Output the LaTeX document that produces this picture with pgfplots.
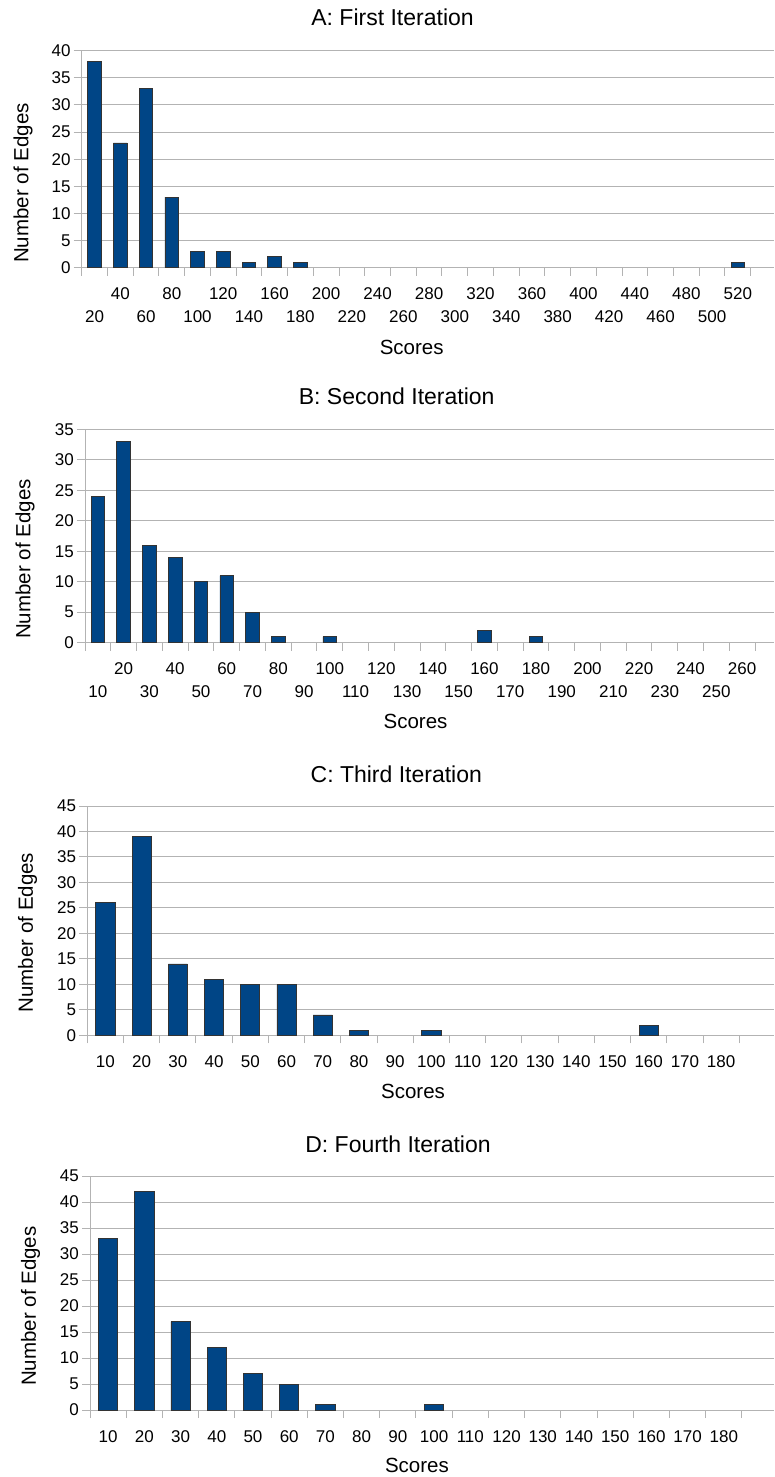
\documentclass[border=0pt]{standalone}
\usepackage{fontspec}
\setmainfont{Liberation Sans}
\usepackage{pgfplots}
\pgfplotsset{compat=1.18}
\definecolor{gridgray}{HTML}{B3B3B3}
\definecolor{barblue}{HTML}{004586}
\newcommand\ticksize{\fontsize{17}{19}\selectfont}
\newcommand\labelsize{\fontsize{20.5}{23}\selectfont}
\newcommand\titlesize{\fontsize{23}{26}\selectfont}
\newcommand\U[1]{\raisebox{23.2pt}{#1}}
\pgfplotsset{
  hist/.style={
    scale only axis, anchor=south west,
    ybar, bar width=0.53,
    ymin=0, xmin=0.5,
    axis x line=bottom, axis y line=left,
    axis line style={-, draw=gridgray, line width=1pt},
    ymajorgrids, grid style={draw=gridgray, line width=1pt},
    tick align=outside, major tick length=8pt, minor tick length=8pt,
    tick style={draw=gridgray, line width=1pt},
    every major x tick/.append style={draw=none},
    /pgf/number format/assume math mode=true,
    ticklabel style={font=\ticksize},
    yticklabel style={anchor=east, inner xsep=3pt},
    xticklabel style={anchor=base, yshift=-47pt},
    label style={font=\labelsize},
    title style={font=\titlesize, anchor=base, yshift=-6pt},
    xlabel style={anchor=base},
    ylabel style={anchor=center},
  },
  bars/.style={fill=barblue, draw=black!80, line width=0.8pt},
}
\begin{document}
\begin{tikzpicture}[x=1pt,y=1pt]
\useasboundingbox (0,0) rectangle (774,-1477);
% ---------------- A
\begin{axis}[hist,
  at={(81.7pt,-267.7pt)}, width=692.3pt, height=217pt,
  xmax=27.406, ymax=40, ytick={0,5,...,40},
  xtick={1,...,26},
  xticklabels={20,\U{40},60,\U{80},100,\U{120},140,\U{160},180,\U{200},220,\U{240},260,\U{280},300,\U{320},340,\U{360},380,\U{400},420,\U{440},460,\U{480},500,\U{520}},
  minor xtick={0.5,1.5,...,26.5},
  title={A: First Iteration}, title style={at={(axis description cs:0.449,1.114)}},
  xlabel={Scores}, xlabel style={at={(axis description cs:0.4767,-0.3977)}},
  ylabel={Number of Edges}, ylabel style={at={(axis description cs:-0.0848,0.390)}},
]
\addplot[bars] coordinates {(1,38) (2,23) (3,33) (4,13) (5,3) (6,3) (7,1) (8,2) (9,1) (26,1)};
\end{axis}
% ---------------- B
\begin{axis}[hist,
  at={(85pt,-642.7pt)}, width=689pt, height=213.4pt,
  xmax=27.237, ymax=35, ytick={0,5,...,35},
  xtick={1,...,26},
  xticklabels={10,\U{20},30,\U{40},50,\U{60},70,\U{80},90,\U{100},110,\U{120},130,\U{140},150,\U{160},170,\U{180},190,\U{200},210,\U{220},230,\U{240},250,\U{260}},
  minor xtick={0.5,1.5,...,26.5},
  title={B: Second Iteration}, title style={at={(axis description cs:0.4524,1.1139)}},
  xlabel={Scores}, xlabel style={at={(axis description cs:0.4797,-0.401)}},
  ylabel={Number of Edges}, ylabel style={at={(axis description cs:-0.0871,0.392)}},
]
\addplot[bars] coordinates {(1,24) (2,33) (3,16) (4,14) (5,10) (6,11) (7,5) (8,1) (10,1) (16,2) (18,1)};
\end{axis}
% ---------------- C
\begin{axis}[hist,
  at={(87.3pt,-1035.3pt)}, width=686.7pt, height=229.3pt,
  xmax=19.459, ymax=45, ytick={0,5,...,45},
  xtick={1,...,18},
  xticklabels={10,20,30,40,50,60,70,80,90,100,110,120,130,140,150,160,170,180},
  xticklabel style={yshift=23pt},
  minor xtick={0.5,1.5,...,18.5},
  title={C: Third Iteration}, title style={at={(axis description cs:0.45,1.1034)}},
  xlabel={Scores}, xlabel style={at={(axis description cs:0.4743,-0.2734)}},
  ylabel={Number of Edges}, ylabel style={at={(axis description cs:-0.0871,0.448)}},
]
\addplot[bars] coordinates {(1,26) (2,39) (3,14) (4,11) (5,10) (6,10) (7,4) (8,1) (10,1) (16,2)};
\end{axis}
% ---------------- D
\begin{axis}[hist,
  at={(90pt,-1410pt)}, width=684pt, height=234pt,
  xmax=19.384, ymax=45, ytick={0,5,...,45},
  xtick={1,...,18},
  xticklabels={10,20,30,40,50,60,70,80,90,100,110,120,130,140,150,160,170,180},
  xticklabel style={yshift=23pt},
  minor xtick={0.5,1.5,...,18.5},
  title={D: Fourth Iteration}, title style={at={(axis description cs:0.4503,1.1013)}},
  xlabel={Scores}, xlabel style={at={(axis description cs:0.478,-0.266)}},
  ylabel={Number of Edges}, ylabel style={at={(axis description cs:-0.087,0.444)}},
]
\addplot[bars] coordinates {(1,33) (2,42) (3,17) (4,12) (5,7) (6,5) (7,1) (10,1)};
\end{axis}
\end{tikzpicture}
\end{document}
